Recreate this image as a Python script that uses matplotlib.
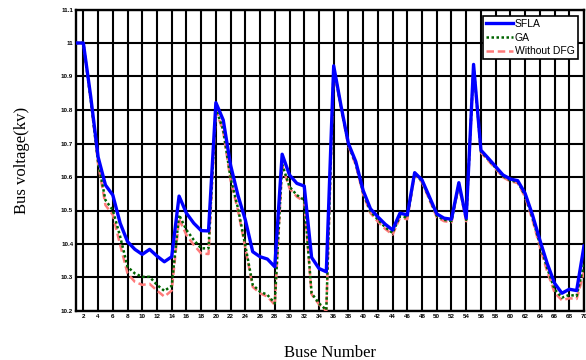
import matplotlib
matplotlib.use("Agg")
import matplotlib.pyplot as plt
import numpy as np

bus = list(range(1, 71))

sfla = [11.0, 11.0, 10.84, 10.66, 10.576, 10.546, 10.462, 10.407, 10.384, 10.369,
        10.384, 10.364, 10.347, 10.362, 10.543, 10.492, 10.462, 10.44, 10.439, 10.822,
        10.77, 10.635, 10.545, 10.472, 10.377, 10.362, 10.355, 10.332, 10.668, 10.606,
        10.581, 10.573, 10.36, 10.327, 10.317, 10.932, 10.812, 10.70, 10.646, 10.56,
        10.505, 10.481, 10.459, 10.442, 10.492, 10.487, 10.613, 10.591, 10.541, 10.49,
        10.477, 10.474, 10.583, 10.477, 10.936, 10.68, 10.656, 10.631, 10.606, 10.594,
        10.589, 10.551, 10.487, 10.412, 10.342, 10.283, 10.253, 10.265, 10.261, 10.394]

ga = [11.0, 11.0, 10.83, 10.645, 10.531, 10.501, 10.422, 10.332, 10.312, 10.302,
      10.302, 10.278, 10.26, 10.275, 10.487, 10.442, 10.412, 10.387, 10.387, 10.805,
      10.74, 10.596, 10.507, 10.395, 10.278, 10.258, 10.248, 10.223, 10.638, 10.571,
      10.546, 10.531, 10.253, 10.223, 10.203, 10.928, 10.808, 10.695, 10.64, 10.553,
      10.497, 10.473, 10.45, 10.433, 10.483, 10.479, 10.61, 10.587, 10.536, 10.484,
      10.472, 10.469, 10.578, 10.472, 10.932, 10.676, 10.652, 10.627, 10.602, 10.59,
      10.585, 10.545, 10.478, 10.4, 10.328, 10.265, 10.24, 10.248, 10.245, 10.34]

no_dfg = [11.0, 11.0, 10.83, 10.64, 10.516, 10.487, 10.397, 10.312, 10.287, 10.278,
          10.281, 10.261, 10.243, 10.261, 10.474, 10.427, 10.397, 10.372, 10.37, 10.8,
          10.735, 10.59, 10.5, 10.388, 10.272, 10.253, 10.243, 10.218, 10.634, 10.566,
          10.541, 10.527, 10.25, 10.22, 10.2, 10.925, 10.805, 10.692, 10.636, 10.548,
          10.492, 10.467, 10.445, 10.428, 10.478, 10.474, 10.607, 10.584, 10.532, 10.48,
          10.468, 10.465, 10.575, 10.468, 10.93, 10.673, 10.649, 10.624, 10.599, 10.587,
          10.582, 10.54, 10.472, 10.392, 10.318, 10.255, 10.232, 10.238, 10.236, 10.315]

xticks = list(range(2, 71, 2))
yticks = [10.2, 10.3, 10.4, 10.5, 10.6, 10.7, 10.8, 10.9, 11.0, 11.1]
ytick_labels = ["10.2", "10.3", "10.4", "10.5", "10.6", "10.7", "10.8", "10.9", "11", "11.1"]

fig = plt.figure(figsize=(5.86, 3.6), dpi=100)
ax = fig.add_axes([76/586, 1-311/360, (584-76)/586, (311-9.5)/360])

l3, = ax.plot(bus, no_dfg, color="#ff7a7a", lw=1.8, ls=(0, (3, 1.5)), label="Without DFG", zorder=3)
l2, = ax.plot(bus, ga, color="#006400", lw=1.8, ls=(0, (1, 1)), label="GA", zorder=4)
l1, = ax.plot(bus, sfla, color="#0000ff", lw=2.4, label="SFLA", zorder=5)

ax.set_xlim(1, 70)
ax.set_ylim(10.2, 11.1)
ax.set_xticks(xticks)
ax.set_xticklabels([str(t) for t in xticks], fontsize=4.5, fontweight="bold", family="Liberation Sans")
ax.set_yticks(yticks)
ax.set_yticklabels(ytick_labels, fontsize=4.5, fontweight="bold", family="Liberation Sans")
ax.grid(True, color="black", lw=1.5)
ax.tick_params(axis="both", length=2, width=1.2, pad=2, top=True, right=True, direction="in")
for s in ax.spines.values():
    s.set_linewidth(1.7)

ax.set_ylabel("Bus voltage(kv)", family="Liberation Serif", fontsize=12, labelpad=22)
ax.set_xlabel("Buse Number", family="Liberation Serif", fontsize=12, labelpad=19)

leg = ax.legend(handles=[l1, l2, l3], loc="upper right",
                prop={"family": "Liberation Sans", "size": 7.5},
                frameon=True, fancybox=False, edgecolor="black", framealpha=1,
                borderpad=0.3, labelspacing=0.35, handlelength=2.6, handletextpad=0.15,
                borderaxespad=0.6)
leg.get_frame().set_linewidth(1.2)
leg.set_zorder(10)

fig.savefig("out.png", dpi=100)
